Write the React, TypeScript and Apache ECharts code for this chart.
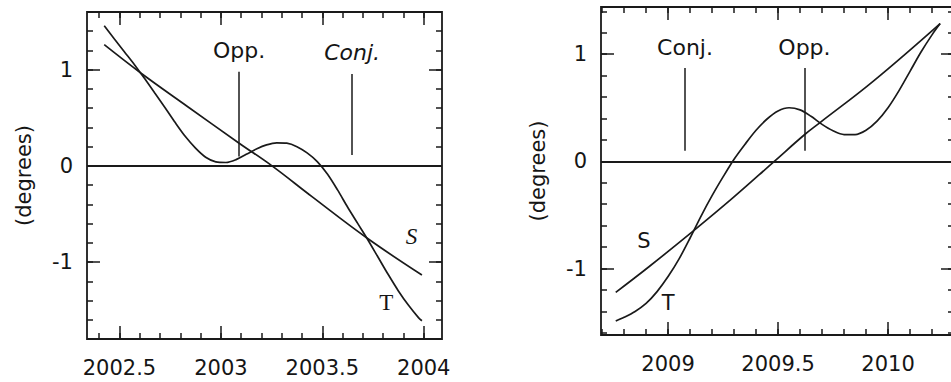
import React, { useEffect, useRef } from "react";
import * as echarts from "echarts";

// ---- data ----
const leftXRange = [2002.34, 2004.09];
const leftYRange = [-1.8, 1.6];
const rightXRange = [2008.695, 2010.3];
const rightYRange = [-1.62, 1.44];

const leftXTickLabels = [2002.5, 2003, 2003.5, 2004];
const rightXTickLabels = [2009, 2009.5, 2010];
const yTickLabels = [-1, 0, 1];

const leftT: [number, number][] = [
  [2002.425, 1.458], [2002.475, 1.32], [2002.525, 1.185], [2002.575, 1.05],
  [2002.625, 0.905], [2002.675, 0.755], [2002.725, 0.605], [2002.775, 0.45],
  [2002.825, 0.305], [2002.875, 0.185], [2002.925, 0.09], [2002.975, 0.042],
  [2003.025, 0.035], [2003.075, 0.065], [2003.125, 0.12], [2003.175, 0.175],
  [2003.225, 0.218], [2003.275, 0.24], [2003.325, 0.236], [2003.375, 0.2],
  [2003.425, 0.135], [2003.475, 0.045], [2003.525, -0.085], [2003.575, -0.25],
  [2003.625, -0.43], [2003.675, -0.6], [2003.725, -0.77], [2003.775, -0.95],
  [2003.825, -1.13], [2003.875, -1.3], [2003.925, -1.45], [2003.975, -1.58],
  [2003.991, -1.61],
];
const leftS: [number, number][] = [
  [2002.425, 1.26], [2002.605, 0.966], [2002.835, 0.618], [2003.09, 0.236],
  [2003.252, 0], [2003.449, -0.32], [2003.72, -0.75], [2003.991, -1.135],
];
const rightT: [number, number][] = [
  [2008.762, -1.49], [2008.8, -1.455], [2008.85, -1.4], [2008.9, -1.325],
  [2008.95, -1.215], [2009.0, -1.075], [2009.05, -0.91], [2009.1, -0.715],
  [2009.15, -0.51], [2009.2, -0.32], [2009.25, -0.145], [2009.3, 0.02],
  [2009.35, 0.16], [2009.4, 0.29], [2009.45, 0.395], [2009.5, 0.47],
  [2009.55, 0.5], [2009.6, 0.48], [2009.65, 0.42], [2009.7, 0.345],
  [2009.75, 0.285], [2009.8, 0.25], [2009.85, 0.25], [2009.9, 0.29],
  [2009.95, 0.375], [2010.0, 0.5], [2010.05, 0.66], [2010.1, 0.84],
  [2010.15, 1.02], [2010.2, 1.18], [2010.237, 1.285],
];
const rightS: [number, number][] = [
  [2008.762, -1.222], [2008.913, -0.983], [2009.111, -0.656], [2009.293, -0.344],
  [2009.483, 0], [2009.62, 0.248], [2009.688, 0.357], [2009.932, 0.746],
  [2010.237, 1.285],
];

const leftEvents = [
  { name: "Opp.", t: 2003.09, from: 0.097, to: 0.98, italic: false },
  { name: "Conj.", t: 2003.647, from: 0.114, to: 0.956, italic: true },
];
const rightEvents = [
  { name: "Conj.", t: 2009.077, from: 0.1, to: 0.87, italic: false },
  { name: "Opp.", t: 2009.62, from: 0.1, to: 0.87, italic: false },
];

const leftCurveLabels = [
  { name: "S", t: 2003.94, v: -0.73 },
  { name: "T", t: 2003.815, v: -1.42 },
];
const rightCurveLabels = [
  { name: "S", t: 2008.89, v: -0.74 },
  { name: "T", t: 2009.0, v: -1.32 },
];

// ---- styling helpers ----
const INK = "#1a1a1a";
const TEXT = "#151515";
const FONT = "DejaVu Sans";

function steps(from: number, to: number, step: number): number[] {
  const out: number[] = [];
  for (let i = Math.ceil(from / step - 1e-9); i * step <= to + 1e-9; i++) {
    out.push(+(i * step).toFixed(4));
  }
  return out;
}

const tickStyle = { color: INK, width: 1.5 };

function makeXAxes(grid: number, range: number[], majors: number[]) {
  const base = {
    type: "value",
    gridIndex: grid,
    min: range[0],
    max: range[1],
    axisLine: { show: false, onZero: false },
    splitLine: { show: false },
    silent: true,
  };
  const minors = steps(range[0], range[1], 0.1);
  return [
    {
      ...base,
      position: "bottom",
      axisTick: { show: true, inside: true, length: 13, customValues: majors, lineStyle: tickStyle },
      axisLabel: {
        show: true,
        customValues: majors,
        formatter: (v: number) => String(v),
        margin: 18,
        color: TEXT,
        fontSize: 21,
        fontFamily: FONT,
      },
    },
    {
      ...base,
      position: "bottom",
      axisTick: { show: true, inside: true, length: 6, customValues: minors, lineStyle: tickStyle },
      axisLabel: { show: false },
    },
    {
      ...base,
      position: "top",
      axisTick: { show: true, inside: true, length: 13, customValues: majors, lineStyle: tickStyle },
      axisLabel: { show: false },
    },
    {
      ...base,
      position: "top",
      axisTick: { show: true, inside: true, length: 6, customValues: minors, lineStyle: tickStyle },
      axisLabel: { show: false },
    },
  ];
}

function makeYAxes(grid: number, range: number[], majors: number[]) {
  const base = {
    type: "value",
    gridIndex: grid,
    min: range[0],
    max: range[1],
    axisLine: { show: false, onZero: false },
    splitLine: { show: false },
    silent: true,
  };
  const minors = steps(range[0], range[1], 0.2);
  return [
    {
      ...base,
      position: "left",
      name: "(degrees)",
      nameLocation: "middle",
      nameGap: 53,
      nameTextStyle: { color: TEXT, fontSize: 21, fontFamily: FONT },
      axisTick: { show: true, inside: true, length: 13, customValues: majors, lineStyle: tickStyle },
      axisLabel: {
        show: true,
        customValues: majors,
        formatter: (v: number) => String(v),
        margin: 14,
        color: TEXT,
        fontSize: 21,
        fontFamily: FONT,
      },
    },
    {
      ...base,
      position: "left",
      axisTick: { show: true, inside: true, length: 6, customValues: minors, lineStyle: tickStyle },
      axisLabel: { show: false },
    },
    {
      ...base,
      position: "right",
      axisTick: { show: true, inside: true, length: 13, customValues: majors, lineStyle: tickStyle },
      axisLabel: { show: false },
    },
    {
      ...base,
      position: "right",
      axisTick: { show: true, inside: true, length: 6, customValues: minors, lineStyle: tickStyle },
      axisLabel: { show: false },
    },
  ];
}

function curve(grid: number, data: [number, number][], smooth: number) {
  return {
    type: "line",
    xAxisIndex: grid * 4,
    yAxisIndex: grid * 4,
    data,
    smooth,
    showSymbol: false,
    symbol: "none",
    silent: true,
    lineStyle: { color: INK, width: 1.7 },
  };
}

function eventMarks(
  events: { name: string; t: number; from: number; to: number; italic: boolean }[]
) {
  return {
    silent: true,
    symbol: ["none", "none"],
    animation: false,
    data: [
      { yAxis: 0, label: { show: false }, lineStyle: { color: INK, width: 2.2, type: "solid" } },
      ...events.map((e) => [
        {
          name: e.name,
          coord: [e.t, e.from],
          lineStyle: { color: INK, width: 1.5, type: "solid" },
          label: {
            show: true,
            position: "end",
            distance: 10,
            formatter: e.name,
            color: TEXT,
            fontSize: 22,
            fontFamily: FONT,
            fontStyle: e.italic ? "italic" : "normal",
          },
        },
        { coord: [e.t, e.to] },
      ]),
    ],
  };
}

function curveLabels(
  labels: { name: string; t: number; v: number }[],
  fontFamily: string,
  fontSize: number,
  italicS: boolean
) {
  return {
    silent: true,
    symbol: "circle",
    symbolSize: 1,
    itemStyle: { color: "rgba(0,0,0,0)" },
    data: labels.map((l) => ({
      coord: [l.t, l.v],
      label: {
        show: true,
        position: "inside",
        formatter: l.name,
        color: TEXT,
        fontSize,
        fontFamily,
        fontStyle: italicS && l.name === "S" ? "italic" : "normal",
      },
    })),
  };
}

export default function App() {
  const ref = useRef<HTMLDivElement>(null);
  useEffect(() => {
    if (!ref.current) return;
    const chart = echarts.init(ref.current, undefined, { renderer: "svg" });
    const gridBase = {
      show: true,
      borderColor: INK,
      borderWidth: 1.8,
      backgroundColor: "transparent",
      containLabel: false,
      outerBoundsMode: "none",
    };
    chart.setOption({
      animation: false,
      backgroundColor: "#ffffff",
      textStyle: { fontFamily: FONT },
      grid: [
        { ...gridBase, left: 87, right: 509, top: 12, bottom: 43 },
        { ...gridBase, left: 601, right: -3, top: 7, bottom: 47 },
      ],
      xAxis: [
        ...makeXAxes(0, leftXRange, leftXTickLabels),
        ...makeXAxes(1, rightXRange, rightXTickLabels),
      ],
      yAxis: [
        ...makeYAxes(0, leftYRange, yTickLabels),
        ...makeYAxes(1, rightYRange, yTickLabels),
      ],
      series: [
        {
          ...curve(0, leftT, 0.3),
          name: "T",
          markPoint: curveLabels(leftCurveLabels, "Liberation Serif", 23, true),
        },
        { ...curve(0, leftS, 0.4), name: "S", markLine: eventMarks(leftEvents) },
        {
          ...curve(1, rightT, 0.3),
          name: "T",
          markPoint: curveLabels(rightCurveLabels, FONT, 21, false),
        },
        { ...curve(1, rightS, 0.4), name: "S", markLine: eventMarks(rightEvents) },
      ],
    });
    return () => chart.dispose();
  }, []);
  return (
    <div
      ref={ref}
      style={{ position: "fixed", left: 0, top: 0, width: 951, height: 382, background: "#fff" }}
    />
  );
}
